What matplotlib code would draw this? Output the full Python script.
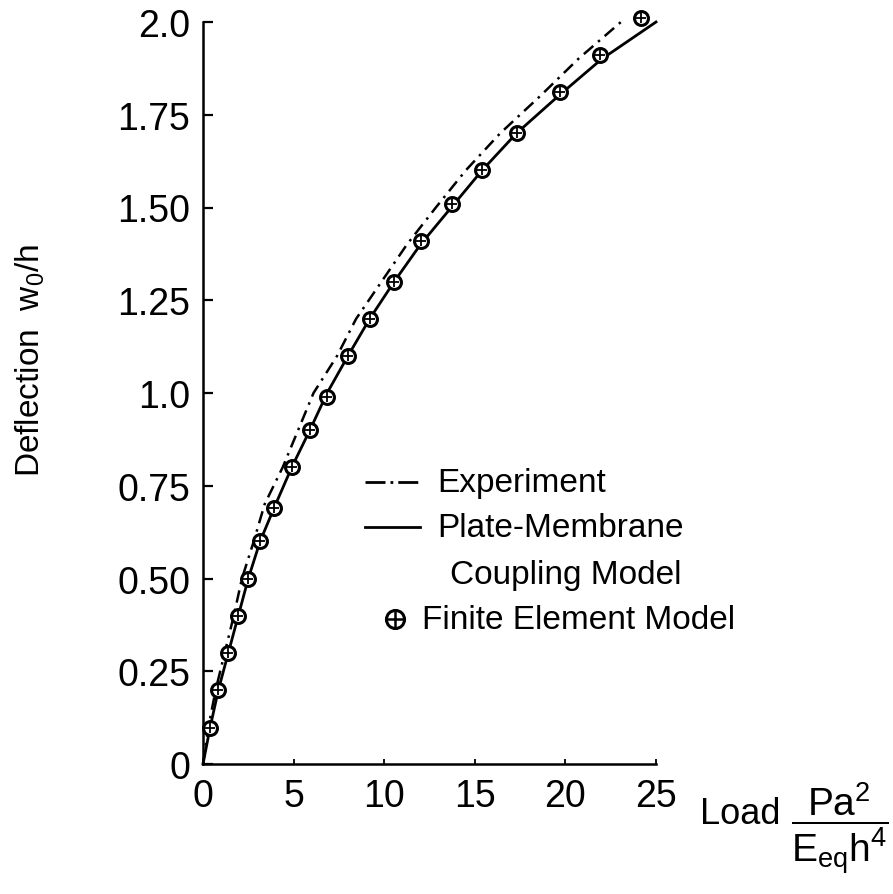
import matplotlib
matplotlib.use("Agg")
import matplotlib.pyplot as plt
from matplotlib.lines import Line2D

# =============================
# DATA
# =============================

# Finite Element Model points
load_fe = [0.39, 0.83, 1.38, 1.93, 2.48, 3.15, 3.92, 4.91, 5.91, 6.84,
           8.0, 9.22, 10.54, 12.03, 13.74, 15.4, 17.33, 19.7, 21.9, 24.17]
defl_fe = [0.097, 0.20, 0.30, 0.40, 0.50, 0.60, 0.69, 0.80, 0.90, 0.99,
           1.10, 1.20, 1.30, 1.41, 1.51, 1.60, 1.70, 1.81, 1.91, 2.01]

# Plate-Membrane Coupling Model (solid)
load_pm = [0, 0.4, 0.85, 1.4, 1.95, 2.5, 3.15, 3.92, 4.9, 5.9, 6.85,
           8.0, 9.2, 10.55, 12.0, 13.7, 15.4, 17.3, 19.6, 22.0, 25.0]
defl_pm = [0, 0.1, 0.2, 0.3, 0.4, 0.5, 0.6, 0.69, 0.8, 0.9, 1.0,
           1.1, 1.2, 1.3, 1.4, 1.5, 1.6, 1.7, 1.8, 1.9, 2.0]

# Experiment (dash-dot)
load_exp = [0, 0.3, 0.7, 1.2, 1.7, 2.15, 2.8, 3.4, 4.4, 5.25, 6.1,
            7.4, 8.45, 9.85, 11.25, 12.85, 14.5, 16.4, 18.6, 20.7, 23.3]
defl_exp = [0, 0.1, 0.2, 0.3, 0.4, 0.5, 0.6, 0.7, 0.8, 0.9, 1.0,
            1.1, 1.2, 1.3, 1.4, 1.5, 1.6, 1.7, 1.8, 1.9, 2.01]

x_ticks = [0, 5, 10, 15, 20, 25]
y_ticks = [0, 0.25, 0.5, 0.75, 1.0, 1.25, 1.5, 1.75, 2.0]
y_tick_labels = ["0", "0.25", "0.50", "0.75", "1.0", "1.25", "1.50", "1.75", "2.0"]

# =============================
# STYLE
# =============================

plt.rcParams["font.family"] = ["Liberation Sans", "DejaVu Sans"]
plt.rcParams["mathtext.fontset"] = "custom"
plt.rcParams["mathtext.rm"] = "Liberation Sans"
plt.rcParams["mathtext.it"] = "Liberation Sans:italic"

fig = plt.figure(figsize=(8.93, 8.95), dpi=100)
ax = fig.add_axes([203/893, 1-765/895, 453/893, 742/895])

# =============================
# CURVES
# =============================

ax.plot(load_exp, defl_exp, color="black", lw=1.8,
        dashes=(5, 2.5, 1, 2.5), clip_on=False)
ax.plot(load_pm, defl_pm, color="black", lw=2.0, clip_on=False)
ax.plot(load_fe, defl_fe, ls="none", marker="o", ms=10, mfc="white",
        mec="black", mew=2.2, clip_on=False, zorder=4)
ax.plot(load_fe, defl_fe, ls="none", marker="+", ms=7, mec="black",
        mew=1.3, clip_on=False, zorder=5)

# =============================
# AXES
# =============================

ax.set_xlim(0, 25)
ax.set_ylim(0, 2.0)
ax.spines["top"].set_visible(False)
ax.spines["right"].set_visible(False)
for s in ("left", "bottom"):
    ax.spines[s].set_linewidth(1.8)

ax.set_xticks(x_ticks)
ax.set_xticklabels([str(v) for v in x_ticks], fontsize=27)
ax.set_yticks(y_ticks)
ax.set_yticklabels(y_tick_labels, fontsize=27)
ax.tick_params(axis="y", direction="in", length=7, width=1.6, pad=9)
ax.tick_params(axis="x", direction="in", length=3.5, width=1.3, pad=10)

ax.set_ylabel(r"Deflection  $\mathrm{w}_{\mathrm{0}}\mathrm{/h}$", fontsize=24)
ax.yaxis.set_label_coords(-0.345, 0.545)

fig.text(740/893, 1-815/895, "Load", fontsize=26,
         ha="center", va="center")
fig.text(840/893, 1-829/895,
         r"$\dfrac{\mathrm{Pa}^{2}}{\mathrm{E}_{\mathrm{eq}}\mathrm{h}^{4}}$",
         fontsize=28, ha="center", va="center")

# =============================
# LEGEND (drawn by hand, like the original)
# =============================

tr = ax.transAxes
ax.add_line(Line2D([0.358, 0.479], [0.380, 0.380], transform=tr, color="black",
                   lw=2.0, dashes=(7.2, 1.8, 1, 1.8), clip_on=False))
ax.add_line(Line2D([0.358, 0.479], [0.319, 0.319], transform=tr, color="black",
                   lw=2.0, clip_on=False))
ax.plot([0.424], [0.195], transform=tr, ls="none", marker="o", ms=13,
        mfc="white", mec="black", mew=2.2, clip_on=False)
ax.plot([0.424], [0.195], transform=tr, ls="none", marker="+", ms=12,
        mec="black", mew=1.8, clip_on=False)

leg_fs = 24
ax.text(0.517, 0.380, "Experiment", transform=tr, fontsize=leg_fs, va="center")
ax.text(0.517, 0.319, "Plate-Membrane", transform=tr, fontsize=leg_fs, va="center")
ax.text(0.545, 0.256, "Coupling Model", transform=tr, fontsize=leg_fs, va="center")
ax.text(0.483, 0.195, "Finite Element Model", transform=tr, fontsize=leg_fs, va="center")

fig.savefig("out.png", dpi=100)
